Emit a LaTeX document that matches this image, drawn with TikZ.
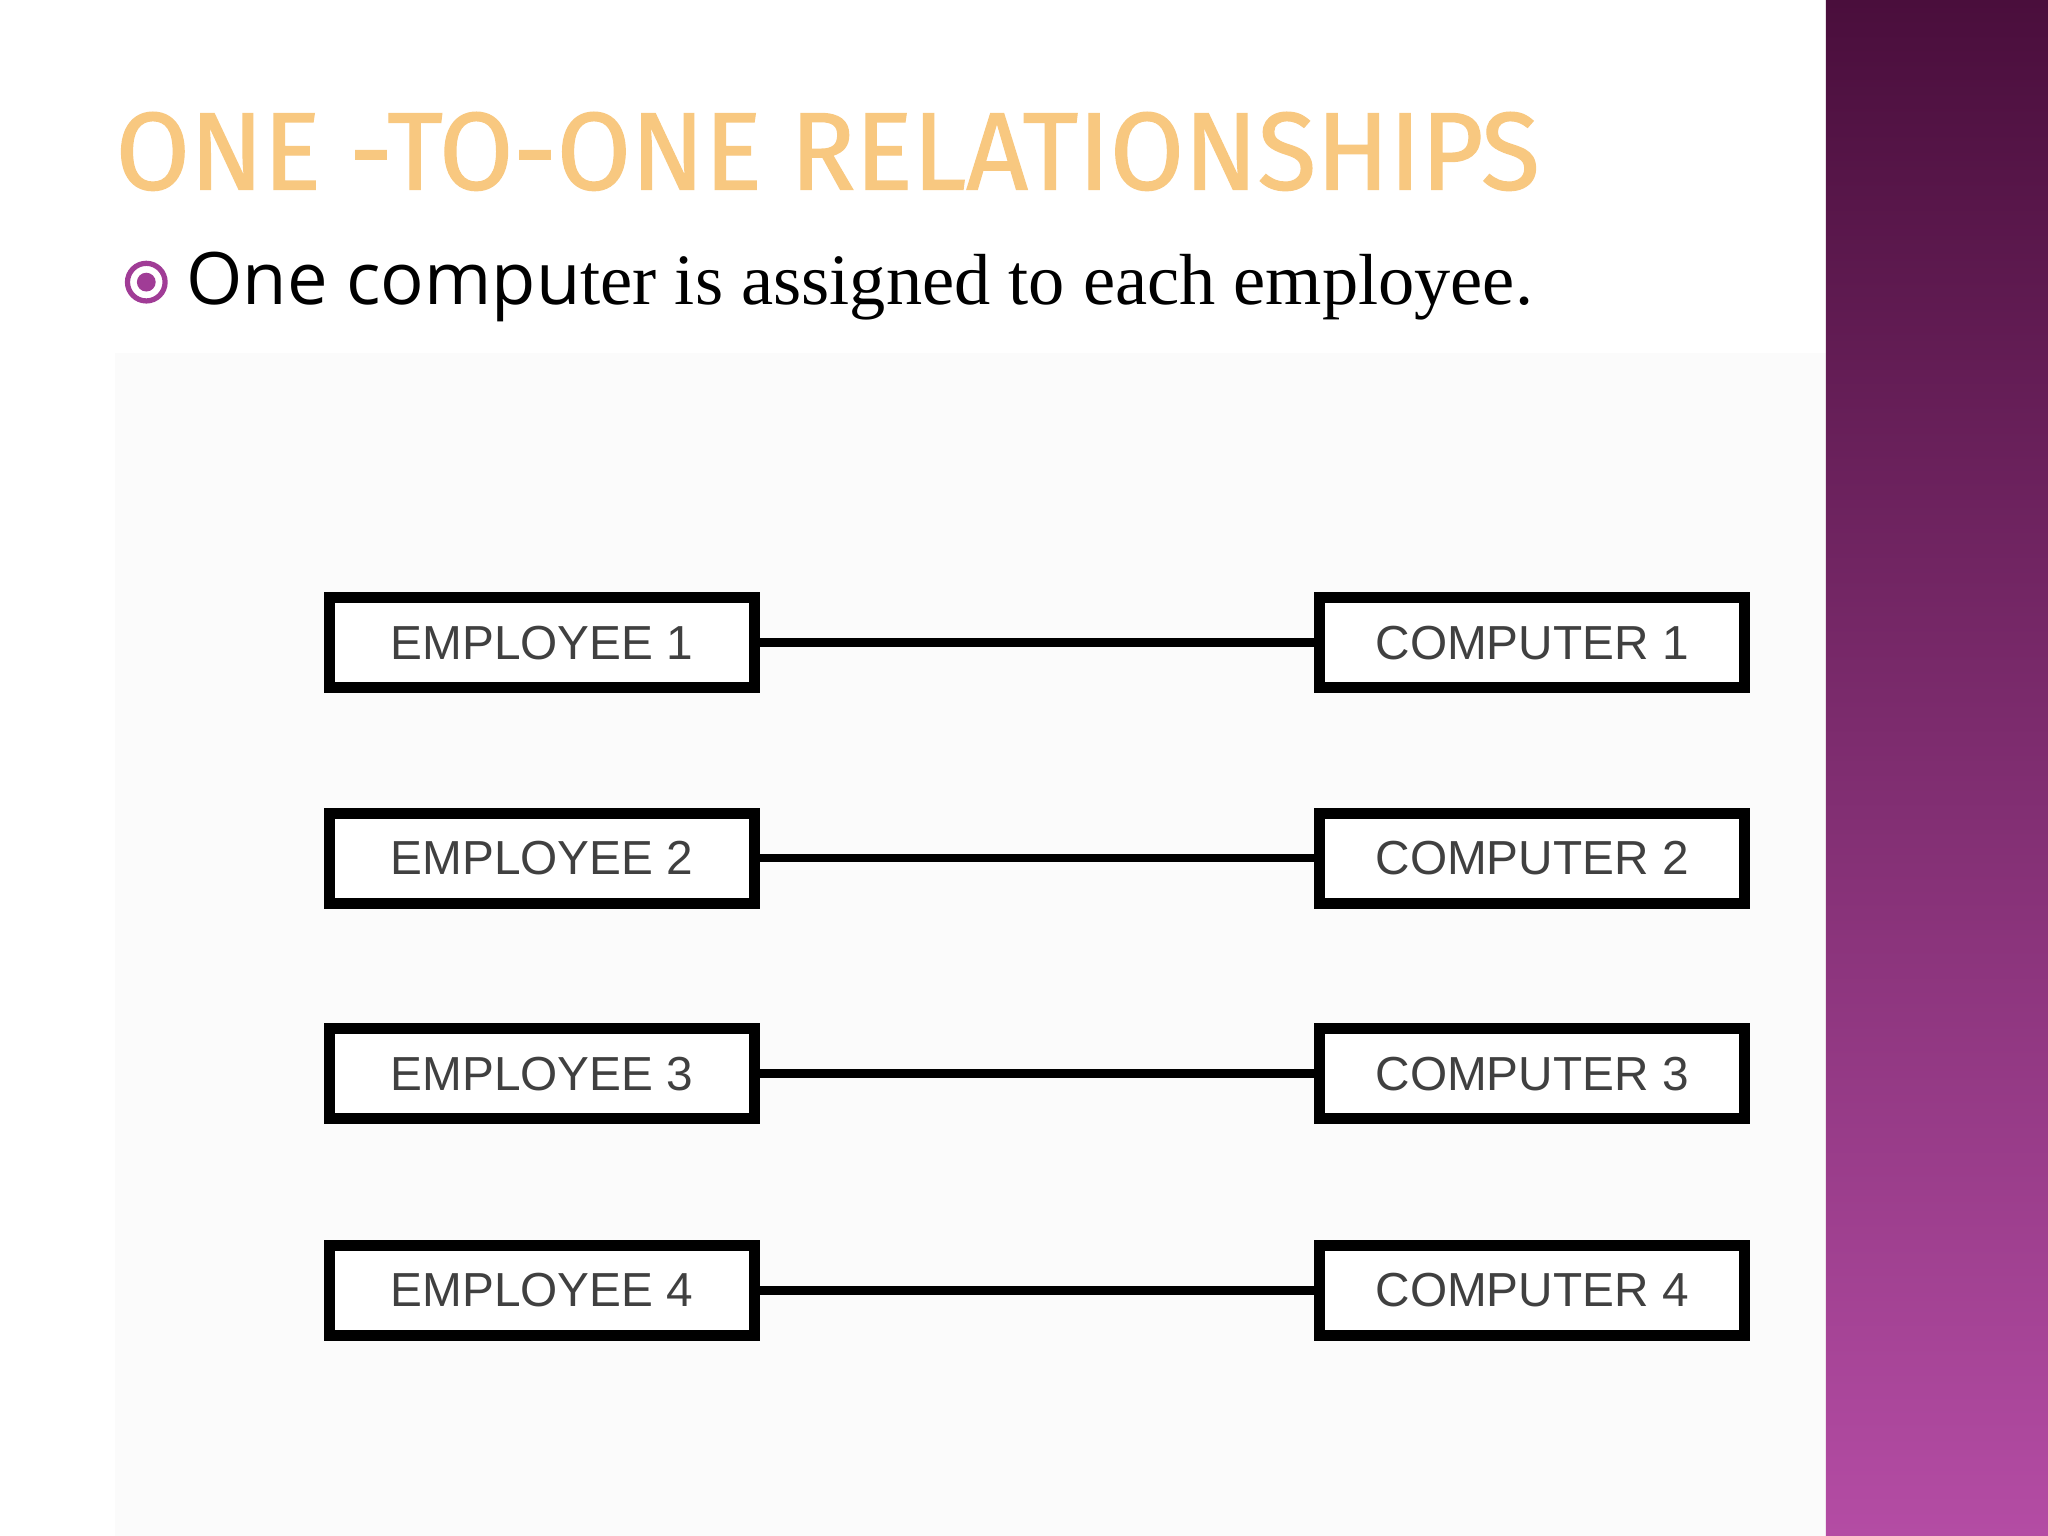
\documentclass[tikz,border=0pt]{standalone}
\usepackage{fontspec}
\setmainfont{Liberation Serif}
\newfontfamily\titlefont[FakeStretch=0.975,FakeBold=1.2]{Fira Sans}
\newfontfamily\boxfont{Liberation Sans}
\definecolor{titlecol}{HTML}{F8C880}
\definecolor{bulletcol}{HTML}{A03C96}
\definecolor{stripA}{HTML}{4A0E3C}
\definecolor{stripB}{HTML}{B44CA4}
\tikzset{
  ent/.style={draw=black, line width=1.05mm, fill=white, minimum width=4.06cm, minimum height=0.86cm, inner sep=0pt, font=\boxfont\fontsize{13}{13}\selectfont, text=black!75},
  rel/.style={line width=0.8mm, black}
}
\begin{document}
\begin{tikzpicture}[x=0.0125cm,y=-0.0125cm]
\useasboundingbox (0,0) rectangle (1568,1176);
\fill[white] (0,0) rectangle (1568,1176);
\fill[black!1.5] (88,270) rectangle (1398,1176);
\shade[top color=stripA, bottom color=stripB] (1398,0) rectangle (1568,1176);
\node[anchor=base west, inner sep=0pt, text=titlecol, font=\titlefont\fontsize{30}{30}\selectfont] (title) at (88,145) {ONE -TO-ONE RELATIONSHIPS};
\node[circle, draw=bulletcol, line width=0.5mm, minimum size=0.36cm, inner sep=0pt] (bul) at (112,216) {};
\fill[bulletcol] (bul.center) circle (0.09cm);
\node[anchor=base west, inner sep=0pt, font=\fontsize{19.7}{20}\selectfont] (txt) at (142,233) {{\fontspec{Open Sans}One compu}ter is assigned to each employee.};
\foreach \i/\y in {1/492,2/657,3/822,4/988}{
  \node[ent] (e\i) at (415,\y) {EMPLOYEE \i};
  \node[ent] (c\i) at (1173,\y) {COMPUTER \i};
  \draw[rel] (e\i) -- (c\i);
}
\end{tikzpicture}
\end{document}
